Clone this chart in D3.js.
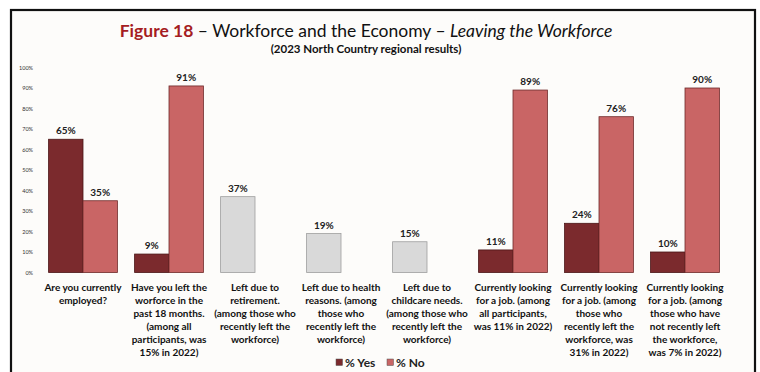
<!DOCTYPE html>
<html>
<head>
<meta charset="utf-8">
<script src="https://cdn.jsdelivr.net/npm/d3@7"></script>
<style>
  html, body { margin: 0; padding: 0; background: #ffffff; }
  svg { display: block; }
  text { font-family: Lato, "Open Sans", sans-serif; }
</style>
</head>
<body>
<svg id="chart" width="760" height="372"></svg>
<script>
// Category labels (one array of lines per category)
const categories = [
  ["Are you currently", "employed?"],
  ["Have you left the", "worforce in the", "past 18 months.", "(among all", "participants, was", "15% in 2022)"],
  ["Left due to", "retirement.", "(among those who", "recently left the", "workforce)"],
  ["Left due to health", "reasons. (among", "those who", "recently left the", "workforce)"],
  ["Left due to", "childcare needs.", "(among those who", "recently left the", "workforce)"],
  ["Currently looking", "for a job. (among", "all participants,", "was 11% in 2022)"],
  ["Currently looking", "for a job. (among", "those who", "recently left the", "workforce, was", "31% in 2022)"],
  ["Currently looking", "for a job. (among", "those who have", "not recently left", "the workforce,", "was 7% in 2022)"]
];
const yesValues    = [65, 9, null, null, null, 11, 24, 10];
const noValues     = [35, 91, null, null, null, 89, 76, 90];
const reasonValues = [null, null, 37, 19, 15, null, null, null];
const yTicks = [0, 10, 20, 30, 40, 50, 60, 70, 80, 90, 100];
const seriesNames = ["% Yes", "% No"];

const colors = { yes: "#7b2a2d", no: "#c96565", reason: "#d9d9d9" };

const svg = d3.select("#chart");

// Framed panel
svg.append("rect")
  .attr("x", 11).attr("y", 10).attr("width", 744).attr("height", 380)
  .attr("fill", "#fdfcfa").attr("stroke", "#111").attr("stroke-width", 2.2);

// Title
const title = svg.append("text")
  .attr("x", 366).attr("y", 37).attr("text-anchor", "middle")
  .attr("font-size", 17.5).attr("fill", "#111");
title.append("tspan").attr("fill", "#a51c22").attr("font-weight", 700).text("Figure 18");
title.append("tspan").text(" \u2013 Workforce and the Economy \u2013 ");
title.append("tspan").attr("font-style", "italic").text("Leaving the Workforce");

svg.append("text")
  .attr("x", 366).attr("y", 53).attr("text-anchor", "middle")
  .attr("font-size", 11.5).attr("font-weight", 700).attr("fill", "#111")
  .text("(2023 North Country regional results)");

// Scales
const x = d3.scaleBand()
  .domain(d3.range(categories.length))
  .range([40, 728])
  .paddingInner(0.2)
  .paddingOuter(0.1);
const x1 = d3.scaleBand().domain(["yes", "no"]).range([0, x.bandwidth()]);
const y = d3.scaleLinear().domain([0, 100]).range([272.5, 67.5]);

// Y axis (labels only)
const yAxis = d3.axisLeft(y)
  .tickValues(yTicks)
  .tickFormat(d => d + "%")
  .tickSize(0)
  .tickPadding(0);
const gy = svg.append("g").attr("transform", "translate(33,0)").call(yAxis);
gy.select(".domain").remove();
gy.selectAll("text")
  .attr("font-size", 5.5).attr("fill", "#333")
  .style("font-family", "Lato, sans-serif");

// Bars
const bars = [];
categories.forEach((c, i) => {
  if (yesValues[i] != null) bars.push({ i, key: "yes", v: yesValues[i], fill: colors.yes, stroke: "#4a1416" });
  if (noValues[i] != null) bars.push({ i, key: "no", v: noValues[i], fill: colors.no, stroke: "#6e2a2a" });
  if (reasonValues[i] != null) bars.push({ i, key: "yes", v: reasonValues[i], fill: colors.reason, stroke: "#9e9e9e" });
});

const g = svg.append("g");
g.selectAll("rect.bar").data(bars).join("rect")
  .attr("class", "bar")
  .attr("x", d => x(d.i) + x1(d.key))
  .attr("y", d => y(d.v))
  .attr("width", x1.bandwidth())
  .attr("height", d => y(0) - y(d.v))
  .attr("fill", d => d.fill)
  .attr("stroke", d => d.stroke)
  .attr("stroke-width", 0.8);

g.selectAll("text.val").data(bars).join("text")
  .attr("class", "val")
  .attr("x", d => x(d.i) + x1(d.key) + x1.bandwidth() / 2)
  .attr("y", d => y(d.v) - 5)
  .attr("text-anchor", "middle")
  .attr("font-size", 10).attr("font-weight", 700).attr("fill", "#222")
  .text(d => d.v + "%");

// Category labels
const labels = svg.append("g");
categories.forEach((lines, i) => {
  const t = labels.append("text")
    .attr("x", x(i) + x.bandwidth() / 2)
    .attr("y", 291)
    .attr("text-anchor", "middle")
    .attr("font-size", 10).attr("font-weight", 700).attr("fill", "#111");
  lines.forEach((ln, k) => {
    t.append("tspan").attr("x", x(i) + x.bandwidth() / 2).attr("dy", k === 0 ? 0 : 13).text(ln);
  });
});

// Legend
const legend = svg.append("g").attr("transform", "translate(336,364)");
const legendItems = [
  { name: seriesNames[0], color: colors.yes, dx: 0 },
  { name: seriesNames[1], color: colors.no, dx: 51 }
];
legendItems.forEach(it => {
  const lg = legend.append("g").attr("transform", `translate(${it.dx},0)`);
  lg.append("rect").attr("x", 0).attr("y", -5).attr("width", 6.5).attr("height", 6.5)
    .attr("fill", it.color).attr("stroke", "#555").attr("stroke-width", 0.5);
  lg.append("text").attr("x", 9).attr("y", 2.5)
    .attr("font-size", 12).attr("font-weight", 700).attr("fill", "#222")
    .text(it.name);
});
</script>
</body>
</html>
